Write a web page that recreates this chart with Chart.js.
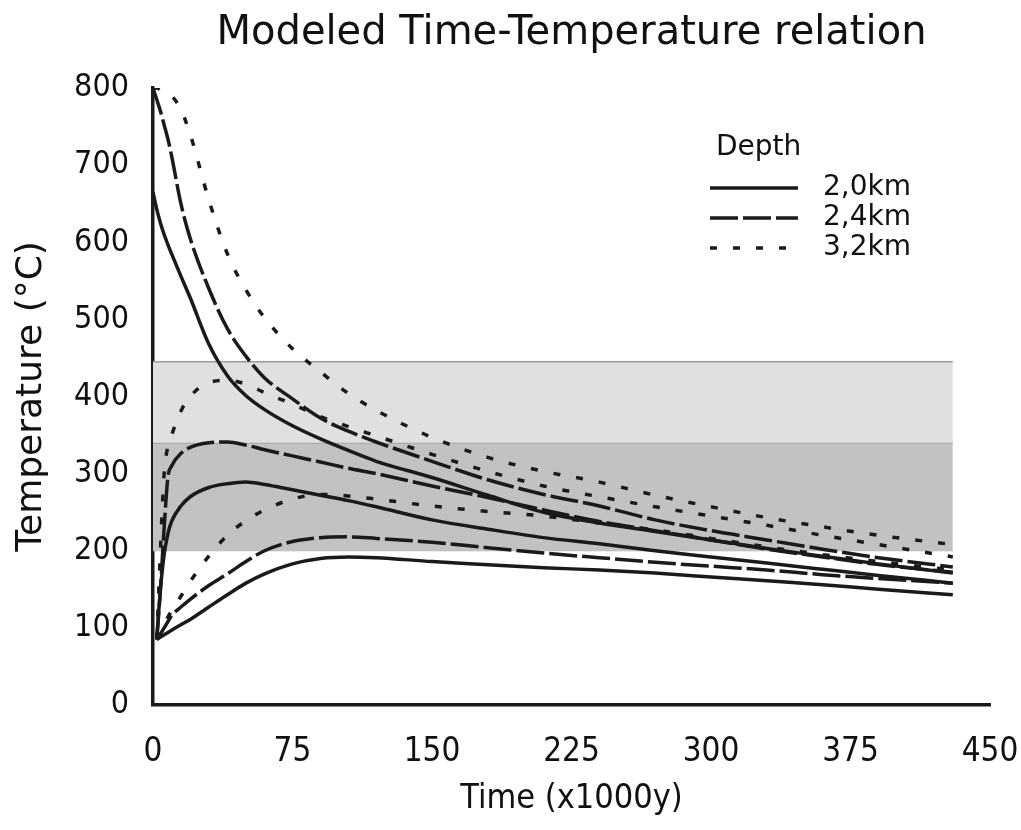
<!DOCTYPE html>
<html>
<head>
<meta charset="utf-8">
<title>Modeled Time-Temperature relation</title>
<script src="https://cdn.jsdelivr.net/npm/chart.js@4.4.1/dist/chart.umd.min.js"></script>
<style>
  html, body { margin: 0; padding: 0; background: #fff; }
  canvas { display: block; }
</style>
</head>
<body>
<canvas id="tempChart" width="1021" height="830"></canvas>
<script>
// time (x1000 y), shared by all curves
const time = [0, 2, 4, 6, 8, 10, 15, 20, 30, 40, 50, 60, 75, 90, 105, 120, 150, 180, 210, 240, 270, 300, 330, 360, 390, 430];

// 2,0 km depth
const cool20     = [665, 643, 625, 610, 597, 585, 556, 528, 468, 427, 401, 383, 362, 345, 330, 316, 295, 272, 250, 236, 225, 214, 203, 193, 183, 171];
const heatFast20 = [null, 85, 150, 195, 222, 238, 258, 270, 282, 287, 289, 286, 279, 272, 265, 257, 240, 228, 217, 209, 200, 192, 184, 176, 168, 158];
const heatSlow20 = [null, 85, 88, 91, 94, 97, 104, 111, 127, 143, 158, 170, 183, 190, 192, 191, 186, 182, 178, 175, 171, 166, 161, 156, 150, 143];

// 2,4 km depth
const cool24     = [800, 785, 770, 752, 734, 712, 650, 605, 540, 488, 452, 424, 397, 372, 355, 341, 316, 292, 273, 258, 240, 226, 214, 202, 191, 179];
const heatFast24 = [null, 85, 150, 230, 295, 310, 326, 334, 340, 341, 337, 331, 323, 315, 307, 300, 284, 269, 253, 238, 226, 214, 202, 192, 182, 172];
const heatSlow24 = [null, 85, 92, 100, 108, 116, 127, 137, 155, 170, 186, 200, 212, 217, 218, 216, 211, 204, 197, 191, 185, 180, 175, 169, 164, 158];

// 3,2 km depth
const cool32     = [800, 800, 798, 796, 794, 790, 772, 740, 655, 585, 538, 502, 462, 432, 404, 382, 347, 321, 303, 289, 272, 257, 243, 231, 220, 208];
const heatFast32 = [null, 85, 200, 300, 335, 350, 381, 400, 418, 421, 416, 405, 390, 374, 361, 349, 325, 303, 284, 270, 257, 245, 233, 220, 208, 192];
const heatSlow32 = [null, 85, 95, 104, 114, 122, 141, 160, 193, 220, 239, 253, 267, 273, 271, 267, 258, 251, 245, 236, 227, 216, 205, 195, 186, 175];

// shaded temperature windows
const bandTime = [0, 430];
const bandLimits = [445, 340, 200];

const legendTitle = 'Depth';
const legendLabels = ['2,0km', '2,4km', '3,2km'];

const inkColor = '#1a1a1a';
const dashStyles = [[], [28, 5], [7, 16]];

function toPoints(values) {
  return time.map((t, i) => ({ x: t, y: values[i] })).filter(p => p.y !== null);
}

function curve(values, depthIdx) {
  return {
    data: toPoints(values),
    borderColor: inkColor,
    borderWidth: 3.5,
    borderDash: dashStyles[depthIdx],
    pointRadius: 0,
    cubicInterpolationMode: 'monotone',
    fill: false,
    order: 1
  };
}

function band(limit, fillColor, edgeColor, edgeWidth) {
  return {
    data: bandTime.map(t => ({ x: t, y: limit })),
    borderColor: edgeColor,
    borderWidth: edgeWidth,
    backgroundColor: fillColor,
    pointRadius: 0,
    fill: fillColor ? '+1' : false,
    order: 10
  };
}

// legend drawn inside the plot, top right
const depthLegend = {
  id: 'depthLegend',
  afterDatasetsDraw(chart) {
    const ctx = chart.ctx;
    ctx.save();
    ctx.fillStyle = '#111';
    ctx.font = '28px "DejaVu Sans"';
    ctx.textBaseline = 'middle';
    ctx.fillText(legendTitle, 716, 148);
    legendLabels.forEach((label, i) => {
      const y = 188 + i * 30;
      ctx.strokeStyle = inkColor;
      ctx.lineWidth = 3.5;
      ctx.setLineDash(dashStyles[i]);
      ctx.beginPath();
      ctx.moveTo(710, y);
      ctx.lineTo(798, y);
      ctx.stroke();
      ctx.setLineDash([]);
      ctx.fillText(label, 823, y);
    });
    ctx.restore();
  }
};

const ctx = document.getElementById('tempChart').getContext('2d');
new Chart(ctx, {
  type: 'line',
  data: {
    datasets: [
      curve(cool20, 0), curve(heatFast20, 0), curve(heatSlow20, 0),
      curve(cool24, 1), curve(heatFast24, 1), curve(heatSlow24, 1),
      curve(cool32, 2), curve(heatFast32, 2), curve(heatSlow32, 2),
      band(bandLimits[0], '#e0e0e0', '#9a9a9a', 1.5),
      band(bandLimits[1], '#c2c2c2', '#9a9a9a', 1.5),
      band(bandLimits[2], null, '#b0b0b0', 1)
    ]
  },
  options: {
    responsive: false,
    animation: false,
    layout: { padding: { left: 0, right: 31, top: 0, bottom: 0 } },
    plugins: {
      legend: { display: false },
      tooltip: { enabled: false },
      title: {
        display: true,
        text: 'Modeled Time-Temperature relation',
        fullSize: false,
        color: '#111',
        font: { family: '"DejaVu Sans"', size: 40, weight: 'normal' },
        padding: { top: 10, bottom: 30 }
      }
    },
    scales: {
      x: {
        type: 'linear',
        min: 0,
        max: 450,
        grid: { display: false, drawTicks: false },
        border: { display: true, color: inkColor, width: 3.5 },
        ticks: {
          stepSize: 75,
          color: '#111',
          padding: 28,
          font: { family: '"Liberation Sans Narrow", "DejaVu Sans Condensed", sans-serif', size: 33 }
        },
        title: {
          display: true,
          text: 'Time (x1000y)',
          color: '#111',
          font: { family: '"Liberation Sans Narrow", "DejaVu Sans Condensed", sans-serif', size: 34 },
          padding: { top: 0, bottom: 10 }
        },
        afterFit: s => {
          s.height = 125;
          s.paddingLeft = 0;
          s.paddingRight = 0;
        }
      },
      y: {
        min: 0,
        max: 800,
        grid: { display: false, drawTicks: false },
        border: { display: true, color: inkColor, width: 3.5 },
        ticks: {
          stepSize: 100,
          color: '#111',
          padding: 24,
          font: { family: '"DejaVu Sans Condensed", "DejaVu Sans", sans-serif', size: 32 }
        },
        title: {
          display: true,
          text: 'Temperature (°C)',
          color: '#111',
          font: { family: '"DejaVu Sans", sans-serif', size: 36 },
          padding: { top: 10, bottom: 0 }
        },
        afterFit: s => { s.width = 153; }
      }
    }
  },
  plugins: [depthLegend]
});
</script>
</body>
</html>
